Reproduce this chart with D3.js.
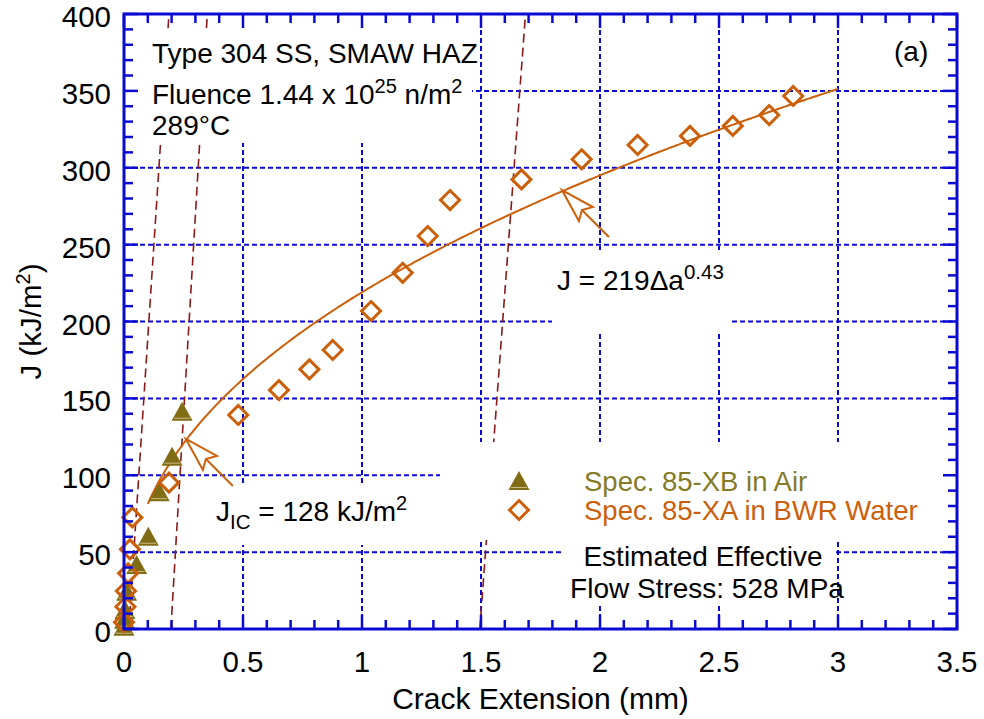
<!DOCTYPE html>
<html><head><meta charset="utf-8">
<script src="https://cdn.jsdelivr.net/npm/d3@7"></script>
<style>body{margin:0;background:#fff}svg{display:block}text{font-family:"Liberation Sans",Arial,sans-serif}</style>
</head><body>
<svg id="c" width="984" height="719"></svg>
<script>
// ---- data ----
const xTickValues = [0, 0.5, 1, 1.5, 2, 2.5, 3, 3.5];
const xTickLabels = ["0", "0.5", "1", "1.5", "2", "2.5", "3", "3.5"];
const yTickValues = [0, 50, 100, 150, 200, 250, 300, 350, 400];
const yTickLabels = ["0", "50", "100", "150", "200", "250", "300", "350", "400"];

// Spec. 85-XB in Air (triangles)
const airDa = [0.0, 0.002, 0.004, 0.011, 0.053, 0.102, 0.148, 0.202, 0.244];
const airJ  = [1.5, 6, 12.4, 24.3, 41.6, 60.0, 89.0, 112.1, 141.3];

// Spec. 85-XA in BWR Water (diamonds)
const bwrDa = [0.0, 0.006, 0.008, 0.017, 0.025, 0.035, 0.189, 0.480, 0.651, 0.779, 0.877, 1.038, 1.171, 1.276, 1.370, 1.670, 1.923, 2.158, 2.378, 2.558, 2.711, 2.812];
const bwrJ  = [4.4, 14.5, 24.7, 36.2, 51.8, 72.6, 95.2, 139.2, 155.4, 168.9, 181.5, 206.8, 231.7, 255.6, 279.0, 292.4, 305.5, 314.8, 320.7, 327.2, 334.3, 346.7];

// Power-law fit J = C * da^n (from label)
const fitC = 219, fitN = 0.43;
const fitRange = [0.1, 3.0];

// Offset / blunting lines (dashed dark red): [da, J] endpoints
const bluntA = [[0.020, 0], [0.189, 400]];
const bluntB = [[0.197, 0], [0.350, 400]];
const bluntC = [[1.495, 0], [1.687, 400]];

// Arrow tips on the fit curve
const arrowDa = [0.26, 1.84];
const arrowJ  = [123.6, 285.5];

// ---- layout ----
const svg = d3.select("#c");
const L = 124, R = 957, T = 14, B = 629;
const x = d3.scaleLinear().domain([0, 3.5]).range([L, R]);
const y = d3.scaleLinear().domain([0, 400]).range([B, T]);
const BLUE = "#0a0ad2", ORANGE = "#cc5f0a", OLIVE = "#806c14", RED = "#8b1a1a";
const FS = 28, FT = 29.5;

// grid
const g = svg.append("g");
g.selectAll(".gx").data(xTickValues.filter(v => v > 0 && v < 3.5)).enter().append("line")
  .attr("x1", d => x(d)).attr("x2", d => x(d)).attr("y1", T).attr("y2", B)
  .attr("stroke", BLUE).attr("stroke-width", 2).attr("stroke-dasharray", "5,3");
g.selectAll(".gy").data(yTickValues.filter(v => v > 0 && v < 400)).enter().append("line")
  .attr("y1", d => y(d)).attr("y2", d => y(d)).attr("x1", L).attr("x2", R)
  .attr("stroke", BLUE).attr("stroke-width", 2).attr("stroke-dasharray", "5,3");

// blunting lines
const lineGen = d3.line().x(d => x(d[0])).y(d => y(d[1]));
[bluntA, bluntB, bluntC].forEach(l => {
  svg.append("path").attr("d", lineGen(l)).attr("fill", "none")
    .attr("stroke", RED).attr("stroke-width", 1.6).attr("stroke-dasharray", "9,5");
});

// white boxes behind annotations
const boxes = [[L + 2, 30, 472, 143], [190, 486, 420, 545], [552, 250, 730, 333], [440, 442, R - 2, 540], [563, 540, 833, 605]];
boxes.forEach(b => svg.append("rect").attr("x", b[0]).attr("y", b[1]).attr("width", b[2] - b[0]).attr("height", b[3] - b[1]).attr("fill", "#fff"));

// fit curve
const fitPts = d3.range(fitRange[0], fitRange[1] + 1e-9, 0.01).map(a => [a, fitC * Math.pow(a, fitN)]);
svg.append("path").attr("d", lineGen(fitPts)).attr("fill", "none").attr("stroke", ORANGE).attr("stroke-width", 2);

// arrows
arrowDa.forEach((a, i) => {
  const tx = x(a), ty = y(arrowJ[i]);
  svg.append("line").attr("x1", tx + 20).attr("y1", ty + 20).attr("x2", tx + 47).attr("y2", ty + 47)
    .attr("stroke", ORANGE).attr("stroke-width", 2);
  svg.append("path").attr("d", `M${tx},${ty}L${tx + 31},${ty + 17}L${tx + 20},${ty + 20}L${tx + 17},${ty + 31}Z`)
    .attr("fill", "#fff").attr("stroke", ORANGE).attr("stroke-width", 2).attr("stroke-linejoin", "miter");
});

// markers
function tri(sel, cx, cy) {
  sel.append("path").attr("d", `M${cx},${cy - 10}L${cx + 10.5},${cy + 9}L${cx - 10.5},${cy + 9}Z`).attr("fill", OLIVE);
  sel.append("line").attr("x1", cx - 8).attr("x2", cx + 8).attr("y1", cy + 6.5).attr("y2", cy + 6.5)
    .attr("stroke", "#c9bb86").attr("stroke-width", 1);
}
function dia(sel, cx, cy) {
  sel.append("path").attr("d", `M${cx},${cy - 9.5}L${cx + 9.5},${cy}L${cx},${cy + 9.5}L${cx - 9.5},${cy}Z`)
    .attr("fill", "none").attr("stroke", ORANGE).attr("stroke-width", 3).attr("stroke-linejoin", "miter");
}
const mk = svg.append("g");
airDa.forEach((a, i) => tri(mk, x(a), y(airJ[i])));
bwrDa.forEach((a, i) => dia(mk, x(a), y(bwrJ[i])));

// ticks
const ax = svg.append("g").attr("stroke", BLUE).attr("stroke-width", 2.5);
d3.range(0, 3.5001, 0.1).forEach(v => {
  const major = Math.abs(v * 2 - Math.round(v * 2)) < 1e-6;
  const len = major ? 14 : 9;
  ax.append("line").attr("x1", x(v)).attr("x2", x(v)).attr("y1", B).attr("y2", B - len);
  ax.append("line").attr("x1", x(v)).attr("x2", x(v)).attr("y1", T).attr("y2", T + len);
});
d3.range(0, 400.1, 10).forEach(v => {
  const major = v % 50 === 0;
  const len = major ? 14 : 9;
  ax.append("line").attr("y1", y(v)).attr("y2", y(v)).attr("x1", L).attr("x2", L + len);
  ax.append("line").attr("y1", y(v)).attr("y2", y(v)).attr("x1", R).attr("x2", R - len);
});
svg.append("rect").attr("x", L).attr("y", T).attr("width", R - L).attr("height", B - T)
  .attr("fill", "none").attr("stroke", BLUE).attr("stroke-width", 3);

// tick labels
xTickValues.forEach((v, i) => svg.append("text").attr("x", x(v)).attr("y", B + 43).attr("text-anchor", "middle")
  .attr("font-size", FT).text(xTickLabels[i]));
yTickValues.forEach((v, i) => svg.append("text").attr("x", L - 13).attr("y", y(v) + 13).attr("text-anchor", "end")
  .attr("font-size", FT).text(yTickLabels[i]));

// axis titles
svg.append("text").attr("x", (L + R) / 2).attr("y", 709).attr("text-anchor", "middle").attr("font-size", 30).text("Crack Extension (mm)");
const yt = svg.append("text").attr("transform", `translate(41,${(T + B) / 2}) rotate(-90)`).attr("text-anchor", "middle").attr("font-size", 29.5);
yt.append("tspan").text("J (kJ/m");
yt.append("tspan").attr("font-size", 20).attr("dy", -11).text("2");
yt.append("tspan").attr("dy", 11).text(")");

// annotations
svg.append("text").attr("x", 152).attr("y", 63).attr("font-size", FS).text("Type 304 SS, SMAW HAZ");
const fl = svg.append("text").attr("x", 152).attr("y", 104).attr("font-size", FS);
fl.append("tspan").text("Fluence 1.44 x 10");
fl.append("tspan").attr("font-size", 20).attr("dy", -11).text("25");
fl.append("tspan").attr("dy", 11).text(" n/m");
fl.append("tspan").attr("font-size", 20).attr("dy", -11).text("2");
svg.append("text").attr("x", 152).attr("y", 135).attr("font-size", FS).text("289°C");
svg.append("text").attr("x", 894).attr("y", 61).attr("font-size", FS).text("(a)");

const eq = svg.append("text").attr("x", 557).attr("y", 290).attr("font-size", FS);
eq.append("tspan").text("J = 219Δa");
eq.append("tspan").attr("font-size", 20.5).attr("dy", -11).text("0.43");

const jic = svg.append("text").attr("x", 216).attr("y", 521).attr("font-size", FS);
jic.append("tspan").text("J");
jic.append("tspan").attr("font-size", 20.5).attr("dy", 8).text("IC");
jic.append("tspan").attr("dy", -8).text(" = 128 kJ/m");
jic.append("tspan").attr("font-size", 20).attr("dy", -11).text("2");

// legend
tri(svg, 519, 481);
dia(svg, 519, 510);
svg.append("text").attr("x", 584).attr("y", 491).attr("font-size", 27.5).attr("fill", "#857a26").text("Spec. 85-XB in Air");
svg.append("text").attr("x", 584).attr("y", 520).attr("font-size", 27.5).attr("fill", ORANGE).text("Spec. 85-XA in BWR Water");

svg.append("text").attr("x", 703).attr("y", 566).attr("text-anchor", "middle").attr("font-size", FS).text("Estimated Effective");
svg.append("text").attr("x", 707).attr("y", 598).attr("text-anchor", "middle").attr("font-size", FS).text("Flow Stress: 528 MPa");
</script>
</body></html>
